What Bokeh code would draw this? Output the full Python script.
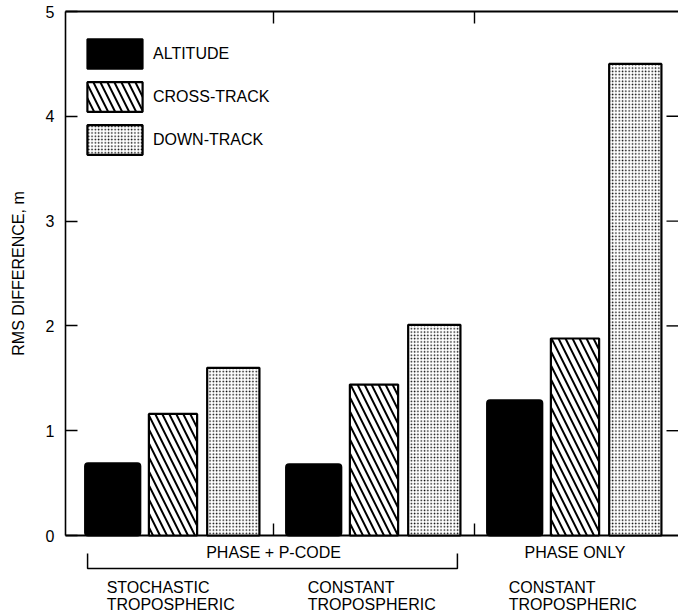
import math
from bokeh.plotting import figure
from bokeh.models import (Range1d, LinearAxis, FixedTicker, Legend,
                          LegendItem, ColumnDataSource)
from bokeh.core.properties import value
from bokeh.embed import file_html
from bokeh.resources import INLINE

# ---------------- data ----------------
series = ["ALTITUDE", "CROSS-TRACK", "DOWN-TRACK"]
group_labels = ["STOCHASTIC\nTROPOSPHERIC", "CONSTANT\nTROPOSPHERIC", "CONSTANT\nTROPOSPHERIC"]
group_index = [0, 1, 2]
altitude = [0.69, 0.68, 1.29]
cross_track = [1.16, 1.44, 1.88]
down_track = [1.60, 2.01, 4.50]
y_ticks = [0, 1, 2, 3, 4, 5]
right_ticks = [1, 2, 3, 4]
group_separators = [1, 2]
methods = ["PHASE + P-CODE", "PHASE ONLY"]
method_centers = [1.0, 2.5]
bracket_groups = [0, 1]   # groups covered by the "PHASE + P-CODE" bracket
y_label = "RMS DIFFERENCE, m"

# ---------------- styles / layout ----------------
FONT = "Liberation Sans"
W, H = 678, 614
PX_PER_Y = 104.8          # pixels per unit on the y axis
PX_PER_X = 201.0          # pixels per group
X0_PX, Y0_PX = 72, 535    # canvas pixel of x=0 / y=0
AXIS_PX = 65              # canvas pixel of the left axis line
bar_offsets = [0.2, 0.5, 0.8]
bar_widths = [0.275, 0.24, 0.26]

X_START, X_END = -X0_PX / PX_PER_X, (W - X0_PX) / PX_PER_X
Y_START, Y_END = -(H - Y0_PX) / PX_PER_Y, Y0_PX / PX_PER_Y
X_AXIS = (AXIS_PX - X0_PX) / PX_PER_X
Y_TOP = y_ticks[-1]

p = figure(width=W, height=H, output_backend="svg", toolbar_location=None,
           x_range=Range1d(X_START, X_END), y_range=Range1d(Y_START, Y_END),
           x_axis_type=None, y_axis_type=None,
           min_border_left=0, min_border_right=0, min_border_top=0, min_border_bottom=0)
p.outline_line_color = None
p.background_fill_color = "white"
p.border_fill_color = "white"

# left axis 0..5, drawn at a fixed location inside the canvas
yaxis = LinearAxis(ticker=FixedTicker(ticks=y_ticks), bounds=(0, Y_TOP),
                   fixed_location=X_AXIS)
yaxis.major_label_text_font = FONT
yaxis.major_label_text_font_size = "16px"
yaxis.major_label_standoff = 11
yaxis.major_tick_in = 12
yaxis.major_tick_out = 0
yaxis.minor_tick_in = 0
yaxis.minor_tick_out = 0
yaxis.axis_line_width = 1.6
yaxis.major_tick_line_width = 1.4
yaxis.axis_line_color = "black"
yaxis.major_tick_line_color = "black"
yaxis.major_label_text_color = "black"
p.add_layout(yaxis, "left")

# y axis title
p.text(x=[X_AXIS - 47 / PX_PER_X], y=[Y_TOP / 2], text=[y_label], angle=math.pi / 2,
       text_font=value(FONT), text_font_size="16px", text_align="center",
       text_baseline="middle", text_color="black")

# baseline (y=0) and top line (y=5)
p.segment(x0=[X_AXIS, X_AXIS], x1=[X_END, X_END], y0=[0, Y_TOP], y1=[0, Y_TOP],
          line_color="black", line_width=2)

tick_len_y = 12 / PX_PER_Y
# ticks on the baseline and under the top line at group separators
p.segment(x0=group_separators, x1=group_separators, y0=[0] * 2, y1=[tick_len_y] * 2,
          line_color="black", line_width=1.4)
p.segment(x0=group_separators, x1=group_separators, y0=[Y_TOP - tick_len_y] * 2,
          y1=[Y_TOP] * 2, line_color="black", line_width=1.4)
# right side inward ticks
rt_len = 12 / PX_PER_X
p.segment(x0=[X_END - rt_len] * len(right_ticks), x1=[X_END] * len(right_ticks),
          y0=right_ticks, y1=right_ticks, line_color="black", line_width=1.4)

# ---------------- bars ----------------
values = [altitude, cross_track, down_track]
renderers = []
styles = [
    dict(fill_color="black", line_color="black", line_width=2, border_radius=3),
    dict(fill_color="white", line_color="black", line_width=2.2,
         hatch_pattern="\\", hatch_color="black", hatch_scale=14, hatch_weight=2),
    dict(fill_color="white", line_color="black", line_width=2.2,
         hatch_pattern=".", hatch_color="black", hatch_scale=3.3, hatch_weight=1.6),
]
for k, (vals, st) in enumerate(zip(values, styles)):
    src = ColumnDataSource(dict(x=[g + bar_offsets[k] for g in group_index], top=vals))
    r = p.vbar(x="x", top="top", bottom=0, width=bar_widths[k], source=src, **st)
    renderers.append(r)

legend = Legend(items=[LegendItem(label=s, renderers=[r]) for s, r in zip(series, renderers)],
                location=(80, 456))
legend.margin = 0
legend.padding = 0
legend.spacing = 6
legend.glyph_width = 69
legend.glyph_height = 37
legend.label_height = 37
legend.label_standoff = 4
legend.label_text_font = FONT
legend.label_text_font_size = "16px"
legend.label_text_color = "black"
legend.border_line_color = None
legend.background_fill_alpha = 0
p.add_layout(legend)

# ---------------- bottom labels ----------------
p.text(x=method_centers, y=[-17 / PX_PER_Y] * 2, text=methods,
       text_font=value(FONT), text_font_size="16px", text_align="center",
       text_baseline="middle", text_color="black")

bx0 = bracket_groups[0] + 0.075
bx1 = bracket_groups[-1] + 0.915
by_top = -18 / PX_PER_Y
by_bot = -33 / PX_PER_Y
p.multi_line(xs=[[bx0, bx0, bx1, bx1]], ys=[[by_top, by_bot, by_bot, by_top]],
             line_color="black", line_width=1.5)

p.text(x=[g + 0.17 for g in group_index], y=[-60.5 / PX_PER_Y] * 3, text=group_labels,
       text_font=value(FONT), text_font_size="16px", text_align="left",
       text_baseline="middle", text_line_height=1.05, text_color="black")

open("out.html", "w").write(file_html(p, INLINE))
